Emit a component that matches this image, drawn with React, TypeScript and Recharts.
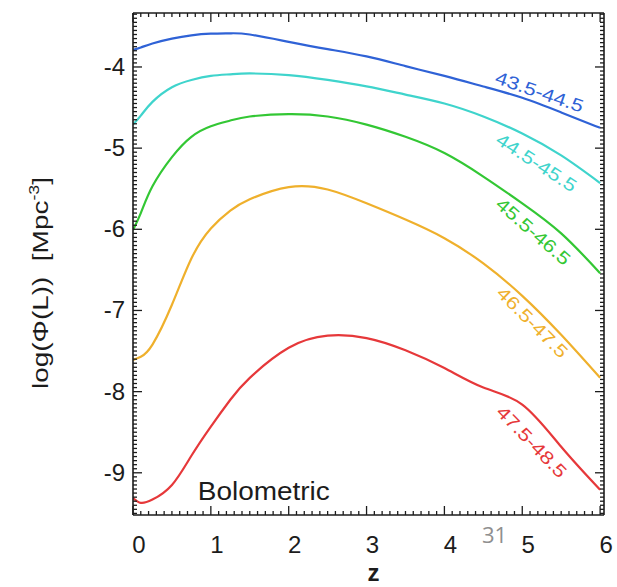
import { LineChart, Line, XAxis, YAxis, ReferenceDot } from 'recharts';

// redshift grid and log(Phi) per bolometric luminosity bin
const zValues = [0, 0.1, 0.25, 0.5, 0.75, 1, 1.25, 1.5, 2, 2.5, 3, 3.5, 4, 4.5, 5, 5.5, 6];
const bin435 = [-3.79, -3.76, -3.71, -3.65, -3.61, -3.59, -3.585, -3.6, -3.69, -3.78, -3.87, -3.99, -4.11, -4.24, -4.38, -4.56, -4.75];
const bin445 = [-4.71, -4.6, -4.43, -4.25, -4.16, -4.11, -4.09, -4.08, -4.1, -4.16, -4.24, -4.34, -4.45, -4.61, -4.82, -5.09, -5.43];
const bin455 = [-6.01, -5.8, -5.47, -5.11, -4.86, -4.73, -4.66, -4.61, -4.58, -4.61, -4.71, -4.86, -5.06, -5.35, -5.68, -6.05, -6.54];
const bin465 = [-7.61, -7.57, -7.42, -6.93, -6.36, -5.99, -5.77, -5.63, -5.48, -5.51, -5.68, -5.88, -6.11, -6.42, -6.82, -7.3, -7.83];
const bin475 = [-9.31, -9.37, -9.33, -9.15, -8.79, -8.43, -8.1, -7.83, -7.46, -7.31, -7.34, -7.49, -7.71, -7.95, -8.16, -8.68, -9.21];

const binNames = ['43.5-44.5', '44.5-45.5', '45.5-46.5', '46.5-47.5', '47.5-48.5'];
const binKeys = ['b435', 'b445', 'b455', 'b465', 'b475'];
const binColors = ['#2f62d6', '#3fd4cc', '#33c734', '#efb02c', '#e6383a'];

// where the rotated bin names sit (z, logPhi, angle)
const namePos = [
  { z: 5.22, v: -4.31, a: 19 },
  { z: 5.18, v: -5.18, a: 33 },
  { z: 5.14, v: -6.03, a: 41 },
  { z: 5.13, v: -7.15, a: 45 },
  { z: 5.12, v: -8.62, a: 46 },
];

const data = zValues.map((z, i) => ({
  z,
  b435: bin435[i],
  b445: bin445[i],
  b455: bin455[i],
  b465: bin465[i],
  b475: bin475[i],
}));

const X_DOMAIN: [number, number] = [0, 6.05];
const Y_DOMAIN: [number, number] = [-9.52, -3.335];

const xTicks: number[] = [];
for (let i = 0; i <= 60; i++) xTicks.push(i / 10);
const yTicks: number[] = [];
for (let i = -190; i <= -67; i++) yTicks.push(i / 20);

const FONT = '"Liberation Sans", Arial, Helvetica, sans-serif';
const INK = '#1c1c1c';

const isMajor = (v: number) => Math.abs(v - Math.round(v)) < 1e-6;

function BottomTick(p: any) {
  const { x, y, payload } = p;
  const major = isMajor(payload.value);
  return (
    <g>
      <line x1={x} x2={x} y1={y} y2={y - (major ? 9 : 4)} stroke={INK} strokeWidth={1.3} />
      {major && (
        <text x={x + 6} y={y + 38} textAnchor="middle" fontSize={24} fontFamily={FONT} fill={INK}>
          {Math.round(payload.value)}
        </text>
      )}
    </g>
  );
}

function TopTick(p: any) {
  const { x, y, payload } = p;
  const major = isMajor(payload.value);
  return <line x1={x} x2={x} y1={y} y2={y + (major ? 9 : 4)} stroke={INK} strokeWidth={1.3} />;
}

function LeftTick(p: any) {
  const { x, y, payload } = p;
  const major = isMajor(payload.value);
  return (
    <g>
      <line x1={x} x2={x + (major ? 9 : 4)} y1={y} y2={y} stroke={INK} strokeWidth={1.3} />
      {major && (
        <text x={x - 8} y={y + 8} textAnchor="end" fontSize={24} fontFamily={FONT} fill={INK}>
          {String(Math.round(payload.value))}
        </text>
      )}
    </g>
  );
}

function RightTick(p: any) {
  const { x, y, payload } = p;
  const major = isMajor(payload.value);
  return <line x1={x} x2={x - (major ? 9 : 4)} y1={y} y2={y} stroke={INK} strokeWidth={1.3} />;
}

const centerOf = (props: any) => {
  const vb = props.viewBox || {};
  return { cx: (vb.x || 0) + (vb.width || 0) / 2, cy: (vb.y || 0) + (vb.height || 0) / 2 };
};

export default function App() {
  return (
    <div style={{ position: 'absolute', left: 0, top: 0, width: 617, height: 587, background: '#fff' }}>
      <LineChart width={617} height={587} data={data} margin={{ top: 12, right: 12, bottom: 0, left: 53 }}>
        <XAxis
          xAxisId="b"
          dataKey="z"
          type="number"
          domain={X_DOMAIN}
          ticks={xTicks}
          interval={0}
          allowDataOverflow
          height={72}
          tickSize={0}
          tickMargin={0}
          tickLine={false}
          tick={<BottomTick />}
          axisLine={{ stroke: INK, strokeWidth: 1.6 }}
          label={(props: any) => {
            const { cx } = centerOf(props);
            return (
              <text x={cx + 5} y={581} textAnchor="middle" fontSize={24} fontWeight="bold" fontFamily={FONT} fill={INK}>
                z
              </text>
            );
          }}
        />
        <XAxis
          xAxisId="t"
          orientation="top"
          dataKey="z"
          type="number"
          domain={X_DOMAIN}
          ticks={xTicks}
          interval={0}
          allowDataOverflow
          height={1}
          tickSize={0}
          tickMargin={0}
          tickLine={false}
          tick={<TopTick />}
          axisLine={{ stroke: INK, strokeWidth: 1.6 }}
        />
        <YAxis
          yAxisId="l"
          type="number"
          domain={Y_DOMAIN}
          ticks={yTicks}
          interval={0}
          allowDataOverflow
          width={80}
          tickSize={0}
          tickMargin={0}
          tickLine={false}
          tick={<LeftTick />}
          axisLine={{ stroke: INK, strokeWidth: 1.6 }}
          label={(props: any) => {
            const { cy } = centerOf(props);
            const y = cy + 19;
            return (
              <text
                x={0}
                y={0}
                transform={`translate(48, ${y}) rotate(-90)`}
                textAnchor="middle"
                fontSize={22}
                fontFamily={FONT}
                fill={INK}
                textLength={212}
                lengthAdjust="spacingAndGlyphs"
                style={{ whiteSpace: 'pre' }}
              >
                {'log(Φ(L))  [Mpc'}
                <tspan dy={-9} fontSize={14}>-3</tspan>
                <tspan dy={9}>]</tspan>
              </text>
            );
          }}
        />
        <YAxis
          yAxisId="r"
          orientation="right"
          type="number"
          domain={Y_DOMAIN}
          ticks={yTicks}
          interval={0}
          allowDataOverflow
          width={1}
          tickSize={0}
          tickMargin={0}
          tickLine={false}
          tick={<RightTick />}
          axisLine={{ stroke: INK, strokeWidth: 1.6 }}
        />
        {binKeys.map((k, i) => (
          <Line
            key={k}
            xAxisId="b"
            yAxisId="l"
            dataKey={k}
            type="natural"
            stroke={binColors[i]}
            strokeWidth={2.2}
            dot={false}
            isAnimationActive={false}
          />
        ))}
        {namePos.map((p, i) => (
          <ReferenceDot
            key={binNames[i]}
            xAxisId="b"
            yAxisId="l"
            x={p.z}
            y={p.v}
            r={0}
            fill="none"
            stroke="none"
            label={(props: any) => {
              const { cx, cy } = centerOf(props);
              return (
                <text
                  x={cx}
                  y={cy}
                  transform={`rotate(${p.a}, ${cx}, ${cy})`}
                  textAnchor="middle"
                  dominantBaseline="central"
                  fontSize={18}
                  fontFamily={FONT}
                  textLength={92}
                  lengthAdjust="spacingAndGlyphs"
                  fill={binColors[i]}
                >
                  {binNames[i]}
                </text>
              );
            }}
          />
        ))}
        <ReferenceDot
          xAxisId="b"
          yAxisId="l"
          x={1.68}
          y={-9.23}
          r={0}
          fill="none"
          stroke="none"
          label={(props: any) => {
            const { cx, cy } = centerOf(props);
            return (
              <text
                x={cx}
                y={cy}
                textAnchor="middle"
                dominantBaseline="central"
                fontSize={25}
                fontFamily={FONT}
                textLength={132}
                lengthAdjust="spacingAndGlyphs"
                fill={INK}
              >
                Bolometric
              </text>
            );
          }}
        />
      </LineChart>
      <div
        style={{
          position: 'absolute',
          left: 482,
          top: 520,
          fontFamily: '"Open Sans", sans-serif',
          fontSize: 22,
          color: '#8f8f8f',
          lineHeight: '28px',
        }}
      >
        31
      </div>
    </div>
  );
}
